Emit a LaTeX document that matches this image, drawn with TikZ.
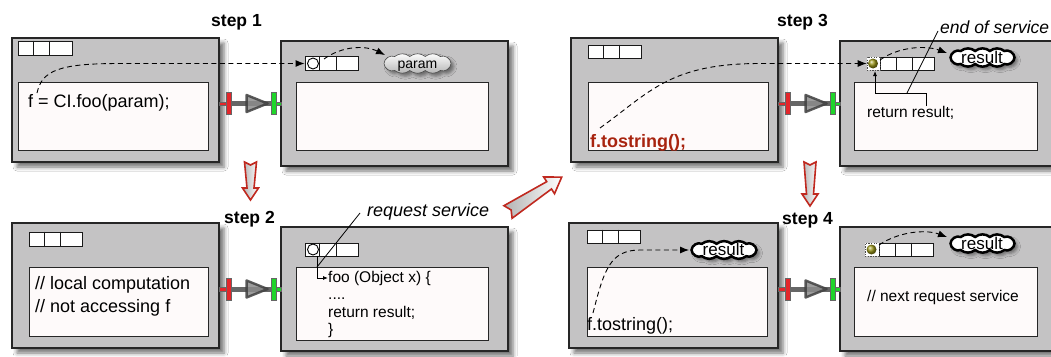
\documentclass[tikz,border=0pt]{standalone}
\usepackage{fontspec}
\setmainfont{Liberation Sans}
\usetikzlibrary{shapes.symbols,shadows.blur,arrows.meta,calc}
\definecolor{boxgray}{HTML}{C4C3C4}
\definecolor{innerw}{HTML}{FEFAFA}
\definecolor{portred}{HTML}{E3262B}
\definecolor{portgreen}{HTML}{1FD52A}
\definecolor{arrowred}{HTML}{C0291F}
\definecolor{codered}{HTML}{A8240F}
\definecolor{olivedot}{HTML}{9C9818}
\newcommand\celldiv[3]{%
  \draw[cellline] ($(#1.north west)+(#2,0)$) -- ($(#1.south west)+(#2,0)$);
  \draw[cellline] ($(#1.north west)+(#3,0)$) -- ($(#1.south west)+(#3,0)$);}
\tikzset{
  obox/.style={draw=black!85, line width=1.1, fill=boxgray, inner sep=0,
     blur shadow={shadow xshift=5pt, shadow yshift=-5pt, shadow blur radius=4pt, shadow opacity=55}},
  ibox/.style={draw=black!85, line width=1, fill=innerw, inner sep=0},
  bar/.style={draw=black!90, line width=0.9, fill=white, inner sep=0},
  cellline/.style={black!90, line width=0.9},
  hole/.style={circle, draw=black, line width=0.9, fill=white, minimum size=11, inner sep=0},
  sq/.style={draw=black!70, dash pattern=on 1.3pt off 1.3pt, line width=0.7, fill=white, minimum height=13, inner sep=0},
  dot/.style={circle, ball color=olivedot, minimum size=10, inner sep=0},
  gcloud/.style={draw=black!70, line width=0.6, top color=white, bottom color=gray!60, line join=miter,
     blur shadow={shadow xshift=3pt, shadow yshift=-3pt, shadow blur radius=3pt, shadow opacity=45}},
  rcloud/.style={draw=black, line width=2.5, fill=white, line join=miter,
     blur shadow={shadow xshift=3pt, shadow yshift=-3pt, shadow blur radius=3pt, shadow opacity=45}},
  code/.style={font=\fontsize{18}{18}\selectfont, inner sep=0, anchor=base west},
  scode/.style={font=\fontsize{15.5}{15.5}\selectfont, inner sep=0, anchor=base west},
  steplabel/.style={font=\fontsize{17.5}{17.5}\selectfont\bfseries, inner sep=0, anchor=base west},
  note/.style={font=\fontsize{18}{18}\selectfont\itshape, inner sep=0, anchor=base west},
  cltext/.style={inner sep=0, anchor=base, font=\fontsize{17}{17}\selectfont},
  dasharrow/.style={black, line width=0.9, dash pattern=on 5pt off 3.5pt, -{Latex[length=9pt,width=7pt]}},
  thinline/.style={black, line width=0.8},
  thinarrow/.style={black, line width=0.8, -{Latex[length=5pt,width=4pt]}},
  bigarrowstyle/.style={draw=arrowred, line width=1.6, line join=miter, left color=gray!60, right color=white},
  pics/port/.style={code={
    \draw[line width=5, black!75, opacity=0.8] (11,0) -- (52,0);
    \filldraw[draw=black!75, fill=black!45, line width=2.4, line join=round, opacity=0.85] (27,-8.5) -- (48,0) -- (27,8.5) -- cycle;
    \filldraw[fill=portred, draw=black!60, line width=0.4] (0,-1.8) rectangle (7,1.8);
    \filldraw[fill=portred, draw=black!60, line width=0.4] (7,-11) rectangle (11.5,11);
    \filldraw[fill=portgreen, draw=black!60, line width=0.4] (52,-11) rectangle (56.5,11);
    \filldraw[fill=portgreen, draw=black!60, line width=0.4] (56.5,-1.8) rectangle (62,1.8);
  }},
  pics/bigarrow/.style args={#1/#2}{code={
    \draw[bigarrowstyle] (0,6*#2) -- (3*#2,0) -- (0,-6*#2) -- (#1-12*#2,-3.5*#2) -- (#1-12*#2,-8*#2) -- (#1,0) -- (#1-12*#2,8*#2) -- (#1-12*#2,3.5*#2) -- cycle;
  }},
  pics/mycloud/.style args={#1/#2/#3}{code={
    \draw[#3] (-#1,0) to[bend left=55] (-0.68*#1,-#2) to[bend left=38] (-0.23*#1,-#2)
      to[bend left=38] (0.23*#1,-#2) to[bend left=38] (0.68*#1,-#2) to[bend left=55] (#1,0)
      to[bend left=55] (0.68*#1,#2) to[bend left=38] (0.23*#1,#2) to[bend left=38] (-0.23*#1,#2)
      to[bend left=38] (-0.68*#1,#2) to[bend left=55] (-#1,0) -- cycle;
  }},
}
\begin{document}
\begin{tikzpicture}[x=1pt,y=-1pt]
\clip (0,0) rectangle (1051,356);
\fill[white] (0,0) rectangle (1051,356);

% ---------- step 1 ----------
\node[obox, minimum width=207, minimum height=124] (b1o) at (115.5,100) {};
\node[ibox, minimum width=190, minimum height=68] (b1i) at (113,116) {};
\node[bar, minimum width=54, minimum height=14] (bar1) at (45,48) {};
\celldiv{bar1}{16}{32}
\node[obox, minimum width=227, minimum height=125] (c1o) at (394.5,103.5) {};
\node[ibox, minimum width=192, minimum height=68] (c1i) at (392,116) {};
\node[bar, minimum width=53, minimum height=14] (cbar1) at (331.5,63.5) {};
\celldiv{cbar1}{15}{32}
\node[hole] (o1) at (313,63.5) {};
\pic (cl1) at (417.5,63.5) {mycloud=33.5/7/gcloud};
\node[cltext, font=\fontsize{14}{14}\selectfont] (cl1t) at (417.5,68) {param};
\node[steplabel] (s1) at (211,26) {step 1};
\node[code] (t1) at (28,107) {f = CI.foo(param);};

% ---------- step 2 ----------
\node[obox, minimum width=207, minimum height=125] (b2o) at (115.5,285.5) {};
\node[ibox, minimum width=179, minimum height=69] (b2i) at (118.5,301.5) {};
\node[bar, minimum width=53, minimum height=14] (bar2) at (55.5,239) {};
\celldiv{bar2}{16}{32}
\node[obox, minimum width=227, minimum height=124] (c2o) at (394.5,289) {};
\node[ibox, minimum width=192, minimum height=73] (c2i) at (392,303.5) {};
\node[bar, minimum width=53, minimum height=13] (cbar2) at (331.5,249.5) {};
\celldiv{cbar2}{15}{32}
\node[hole] (o2) at (313,249.5) {};
\node[steplabel] (s2) at (224,223) {step 2};
\node[code] (t2a) at (35,289) {// local computation};
\node[code] (t2b) at (35,312) {// not accessing f};
\node[scode] (f2a) at (328,282) {foo (Object x) \{};
\node[scode] (f2b) at (328,299.5) {....};
\node[scode] (f2c) at (328,317) {return result;};
\node[scode] (f2d) at (328,334.5) {\}};
\node[note] (rs) at (367,216) {request service};

% ---------- step 3 ----------
\node[obox, minimum width=207, minimum height=124] (b3o) at (674.5,100) {};
\node[ibox, minimum width=180, minimum height=68] (b3i) at (678,116) {};
\node[bar, minimum width=53, minimum height=13] (bar3) at (614.5,51.5) {};
\celldiv{bar3}{16}{32}
\node[obox, minimum width=227, minimum height=125] (c3o) at (953.5,103.5) {};
\node[ibox, minimum width=183, minimum height=68] (c3i) at (945.5,116) {};
\node[bar, minimum width=54, minimum height=13] (cbar3) at (907,63.5) {};
\celldiv{cbar3}{17}{33}
\node[sq, minimum width=13] (sq3) at (873.5,63.5) {};
\node[dot] (dot3) at (873,63.5) {};
\pic (cl3) at (982.5,57.5) {mycloud=32/6.5/rcloud};
\node[cltext] (cl3t) at (982,63) {result};
\node[steplabel] (s3) at (777,26) {step 3};
\node[code, font=\fontsize{18}{18}\selectfont\bfseries, text=codered] (t3) at (590,147) {f.tostring();};
\node[scode] (r3) at (867,117) {return result;};
\node[note, font=\fontsize{17.5}{17.5}\selectfont\itshape] (es) at (940,33) {end of service};

% ---------- step 4 ----------
\node[obox, minimum width=209, minimum height=125] (b4o) at (673.5,285.5) {};
\node[ibox, minimum width=180, minimum height=69] (b4i) at (677,301.5) {};
\node[bar, minimum width=53, minimum height=13] (bar4) at (613.5,236.5) {};
\celldiv{bar4}{16}{32}
\pic (cl4a) at (724,250) {mycloud=32.5/6.2/rcloud};
\node[cltext] (cl4at) at (723.5,255.5) {result};
\node[obox, minimum width=227, minimum height=124] (c4o) at (953.5,289) {};
\node[ibox, minimum width=183, minimum height=69] (c4i) at (945.5,301.5) {};
\node[bar, minimum width=54, minimum height=13] (cbar4) at (906,249.5) {};
\celldiv{cbar4}{17}{33}
\node[sq, minimum width=14] (sq4) at (872,249.5) {};
\node[dot] (dot4) at (871.5,249.5) {};
\pic (cl4b) at (982.5,243.5) {mycloud=32/6.5/rcloud};
\node[cltext] (cl4bt) at (982,249) {result};
\node[steplabel] (s4) at (782,224) {step 4};
\node[code] (t4) at (587,330) {f.tostring();};
\node[scode] (n4) at (867,301) {// next request service};

% ---------- ports between boxes ----------
\path (b1o.east) ++(0,3.5) coordinate (p1);
\path (b2o.east) ++(0,3.5) coordinate (p2);
\path (b3o.east) ++(0,3.5) coordinate (p3);
\path (b4o.east) ++(0,3.5) coordinate (p4);
\pic (pt1) at (p1) {port};
\pic (pt2) at (p2) {port};
\pic (pt3) at (p3) {port};
\pic (pt4) at (p4) {port};

% ---------- big step arrows ----------
\pic[rotate=-90] (ba1) at (250.5,162) {bigarrow=38/1};
\pic[rotate=-90] (ba2) at (810,162) {bigarrow=44/1};
\pic[rotate=33] (ba3) at (508,212) {bigarrow=64/1.25};

% ---------- dashed flows ----------
\coordinate (d1s) at (37,93);
\draw[dasharrow] (d1s) .. controls (42,70) and (60,63.5) .. (120,63.5) -- (cbar1.west);
\coordinate (d1a) at (324,59);
\coordinate (d1b) at (385,55);
\draw[dasharrow] (d1a) .. controls (342,46) and (365,45) .. (d1b);

\coordinate (d3s) at (600,128);
\draw[dasharrow] (d3s) .. controls (650,92) and (670,63.5) .. (760,63.5) -- (sq3.west);
\coordinate (d3a) at (880,60);
\coordinate (d3b) at (947,53);
\draw[dasharrow] (d3a) .. controls (898,47) and (925,45) .. (d3b);

\coordinate (d4s) at (593,313);
\coordinate (d4e) at (689,250);
\draw[dasharrow] (d4s) .. controls (604,270) and (610,250) .. (640,250) -- (d4e);
\coordinate (d4a) at (879,245);
\coordinate (d4b) at (947,237);
\draw[dasharrow] (d4a) .. controls (898,232) and (925,229) .. (d4b);

% ---------- annotation lines ----------
\coordinate (l2s) at (317,256);
\draw[thinarrow] (l2s) |- (f2a.west);
\coordinate (rs1) at (360,213);
\coordinate (rs2) at (317,267);
\draw[thinline] (rs1) -- (rs2);

\coordinate (l3s) at (926,106);
\coordinate (l3m) at (875,93);
\coordinate (l3e) at (875,71);
\draw[thinarrow] (l3s) |- (l3m) -- (l3e);
\coordinate (es1) at (938,31);
\coordinate (es2) at (907,93);
\draw[thinline] (es1) -- (es2);
\end{tikzpicture}
\end{document}
